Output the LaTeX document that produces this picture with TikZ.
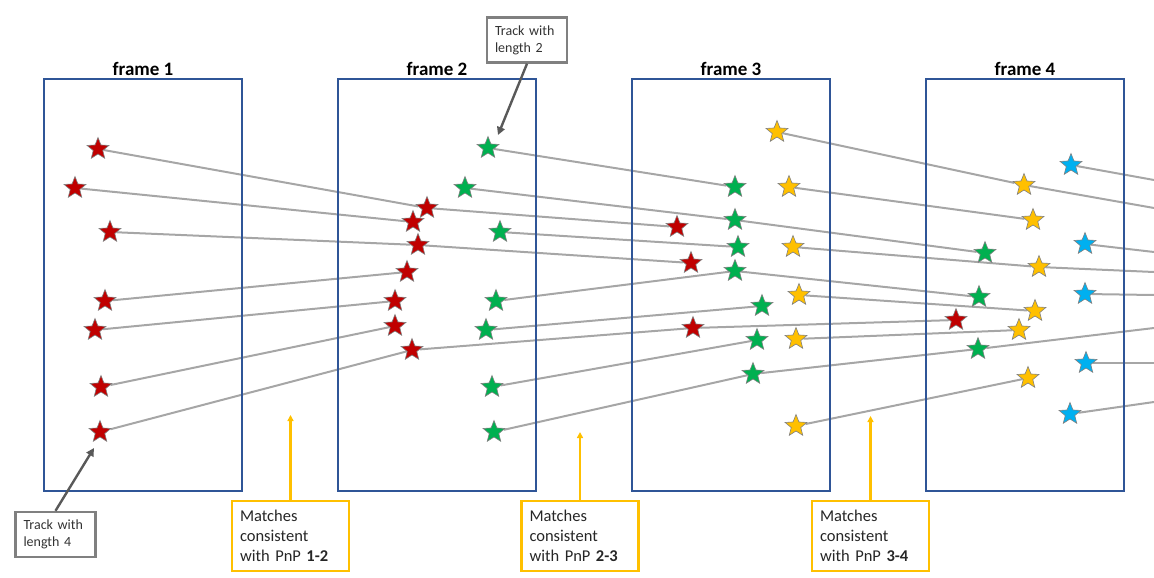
\documentclass[tikz,border=0pt]{standalone}
\usepackage{fontspec}
\setmainfont{Carlito}
\usepackage{tikz}
\usetikzlibrary{shapes.geometric}
\usetikzlibrary{arrows.meta}
\usetikzlibrary{backgrounds}
\definecolor{framecol}{RGB}{47,85,151}
\definecolor{starred}{RGB}{192,0,0}
\definecolor{stargreen}{RGB}{0,176,80}
\definecolor{staryellow}{RGB}{255,192,0}
\definecolor{starblue}{RGB}{0,176,240}
\definecolor{matchgray}{RGB}{166,166,166}
\tikzset{
    fstar/.style={shape=star, star points=5, star point ratio=2.3, minimum size=23pt, inner sep=0pt, draw=black!50, line width=0.6pt, fill=#1},
    framebox/.style={draw=framecol, line width=2.4pt, minimum width=198pt, minimum height=412pt, inner sep=0pt},
    frametitle/.style={font=\bfseries\fontsize{19}{23}\selectfont, label distance=2pt, inner sep=0pt},
    match/.style={draw=matchgray, line width=2pt},
    trackbox/.style={draw=black!50, line width=2.4pt, minimum width=80pt, minimum height=45pt, text width=64pt, inner xsep=8pt, inner ysep=0pt, align=left, text=black!80, font=\fontsize{14}{17}\selectfont},
    trackarrow/.style={draw=black!65, line width=2.4pt, -{Triangle[length=8pt,width=8pt]}},
    pnpbox/.style={draw=staryellow, line width=2.4pt, minimum height=70pt, text width=101pt, inner xsep=8pt, inner ysep=0pt, align=left, text=black!85, font=\fontsize{16.5}{20}\selectfont},
    pnparrow/.style={draw=staryellow, line width=2.4pt, -{Triangle[length=6pt,width=6pt]}}}

\begin{document}
\begin{tikzpicture}[x=1pt, y=-1pt]

            \useasboundingbox (0,0) rectangle (1154,578);

            % frames
            \node[framebox, label={[frametitle]above:frame 1}] (F1) at (143,285) {};
            \node[framebox, label={[frametitle]above:frame 2}] (F2) at (437,285) {};
            \node[framebox, label={[frametitle]above:frame 3}] (F3) at (731,285) {};
            \node[framebox, label={[frametitle]above:frame 4}] (F4) at (1025,285) {};

            % frame 1
            \node[fstar=starred] (r11) at (98,149) {};
            \node[fstar=starred] (r12) at (75,188) {};
            \node[fstar=starred] (r13) at (110,232) {};
            \node[fstar=starred] (r14) at (105,301) {};
            \node[fstar=starred] (r15) at (95,330) {};
            \node[fstar=starred] (r16) at (101,387) {};
            \node[fstar=starred] (r17) at (100,432) {};

            % frame 2
            \node[fstar=starred] (r21) at (427,208) {};
            \node[fstar=starred] (r22) at (413,222) {};
            \node[fstar=starred] (r23) at (418,245) {};
            \node[fstar=starred] (r24) at (407,272) {};
            \node[fstar=starred] (r25) at (395,301) {};
            \node[fstar=starred] (r26) at (395,326) {};
            \node[fstar=starred] (r27) at (412,350) {};
            \node[fstar=stargreen] (g21) at (488,148) {};
            \node[fstar=stargreen] (g22) at (465,188) {};
            \node[fstar=stargreen] (g23) at (500,232) {};
            \node[fstar=stargreen] (g24) at (496,301) {};
            \node[fstar=stargreen] (g25) at (486,330) {};
            \node[fstar=stargreen] (g26) at (492,387) {};
            \node[fstar=stargreen] (g27) at (494,432) {};

            % frame 3
            \node[fstar=starred] (r31) at (677,227) {};
            \node[fstar=starred] (r32) at (691,263) {};
            \node[fstar=starred] (r33) at (693,328) {};
            \node[fstar=stargreen] (g31) at (735,187) {};
            \node[fstar=stargreen] (g32) at (735,220) {};
            \node[fstar=stargreen] (g33) at (738,247) {};
            \node[fstar=stargreen] (g34) at (735,271) {};
            \node[fstar=stargreen] (g35) at (762,306) {};
            \node[fstar=stargreen] (g36) at (757,340) {};
            \node[fstar=stargreen] (g37) at (753,374) {};
            \node[fstar=staryellow] (o31) at (777,132) {};
            \node[fstar=staryellow] (o32) at (789,187) {};
            \node[fstar=staryellow] (o33) at (793,247) {};
            \node[fstar=staryellow] (o34) at (799,295) {};
            \node[fstar=staryellow] (o35) at (796,339) {};
            \node[fstar=staryellow] (o36) at (796,426) {};

            % frame 4
            \node[fstar=stargreen] (g41) at (985,253) {};
            \node[fstar=stargreen] (g42) at (979,297) {};
            \node[fstar=stargreen] (g43) at (978,349) {};
            \node[fstar=starred] (r41) at (956,320) {};
            \node[fstar=staryellow] (o41) at (1024,185) {};
            \node[fstar=staryellow] (o42) at (1033,220) {};
            \node[fstar=staryellow] (o43) at (1039,267) {};
            \node[fstar=staryellow] (o44) at (1035,311) {};
            \node[fstar=staryellow] (o45) at (1019,330) {};
            \node[fstar=staryellow] (o46) at (1028,378) {};
            \node[fstar=starblue] (b41) at (1071,165) {};
            \node[fstar=starblue] (b42) at (1085,244) {};
            \node[fstar=starblue] (b43) at (1085,294) {};
            \node[fstar=starblue] (b44) at (1086,363) {};
            \node[fstar=starblue] (b45) at (1070,414) {};

            % tracks leaving the picture
            \coordinate (e1) at (1154,180);
            \coordinate (e2) at (1154,208);
            \coordinate (e3) at (1154,252);
            \coordinate (e4) at (1154,272);
            \coordinate (e5) at (1154,295);
            \coordinate (e6) at (1154,328);
            \coordinate (e7) at (1154,363);
            \coordinate (e8) at (1154,402);

            \begin{pgfonlayer}{background}
            % matches 1-2
            \draw[match] (r11) -- (r21);
            \draw[match] (r12) -- (r22);
            \draw[match] (r13) -- (r23);
            \draw[match] (r14) -- (r24);
            \draw[match] (r15) -- (r25);
            \draw[match] (r16) -- (r26);
            \draw[match] (r17) -- (r27);
            % matches 2-3
            \draw[match] (r21) -- (r31);
            \draw[match] (r23) -- (r32);
            \draw[match] (r27) -- (r33);
            \draw[match] (g21) -- (g31);
            \draw[match] (g22) -- (g32);
            \draw[match] (g23) -- (g33);
            \draw[match] (g24) -- (g34);
            \draw[match] (g25) -- (g35);
            \draw[match] (g26) -- (g36);
            \draw[match] (g27) -- (g37);
            % matches 3-4
            \draw[match] (r33) -- (r41);
            \draw[match] (g32) -- (g41);
            \draw[match] (g34) -- (g42);
            \draw[match] (g37) -- (g43);
            \draw[match] (o31) -- (o41);
            \draw[match] (o32) -- (o42);
            \draw[match] (o33) -- (o43);
            \draw[match] (o34) -- (o44);
            \draw[match] (o35) -- (o45);
            \draw[match] (o36) -- (o46);
            % matches 4-5
            \draw[match] (b41) -- (e1);
            \draw[match] (o41) -- (e2);
            \draw[match] (b42) -- (e3);
            \draw[match] (o43) -- (e4);
            \draw[match] (b43) -- (e5);
            \draw[match] (g43) -- (e6);
            \draw[match] (b44) -- (e7);
            \draw[match] (b45) -- (e8);
            \end{pgfonlayer}

            % callouts
            \node[trackbox] (T2) at (527,40) {Track with\\length 2};
            \node[trackbox] (T4) at (55.5,534.5) {Track with\\length 4};
            \coordinate (T2tip) at (498,135);
            \coordinate (T4tip) at (94,448);
            \draw[trackarrow] (T2.south) -- (T2tip);
            \draw[trackarrow] (T4.north) -- (T4tip);

            \node[pnpbox] (M12) at (290.5,536) {Matches\\consistent\\with PnP \textbf{1-2}};
            \node[pnpbox] (M23) at (580,536) {Matches\\consistent\\with PnP \textbf{2-3}};
            \node[pnpbox] (M34) at (870.5,536) {Matches\\consistent\\with PnP \textbf{3-4}};
            \coordinate (M12tip) at (290.5,415);
            \coordinate (M23tip) at (580,432);
            \coordinate (M34tip) at (870.5,416);
            \draw[pnparrow] (M12) -- (M12tip);
            \draw[pnparrow] (M23) -- (M23tip);
            \draw[pnparrow] (M34) -- (M34tip);

        \end{tikzpicture}
\end{document}
